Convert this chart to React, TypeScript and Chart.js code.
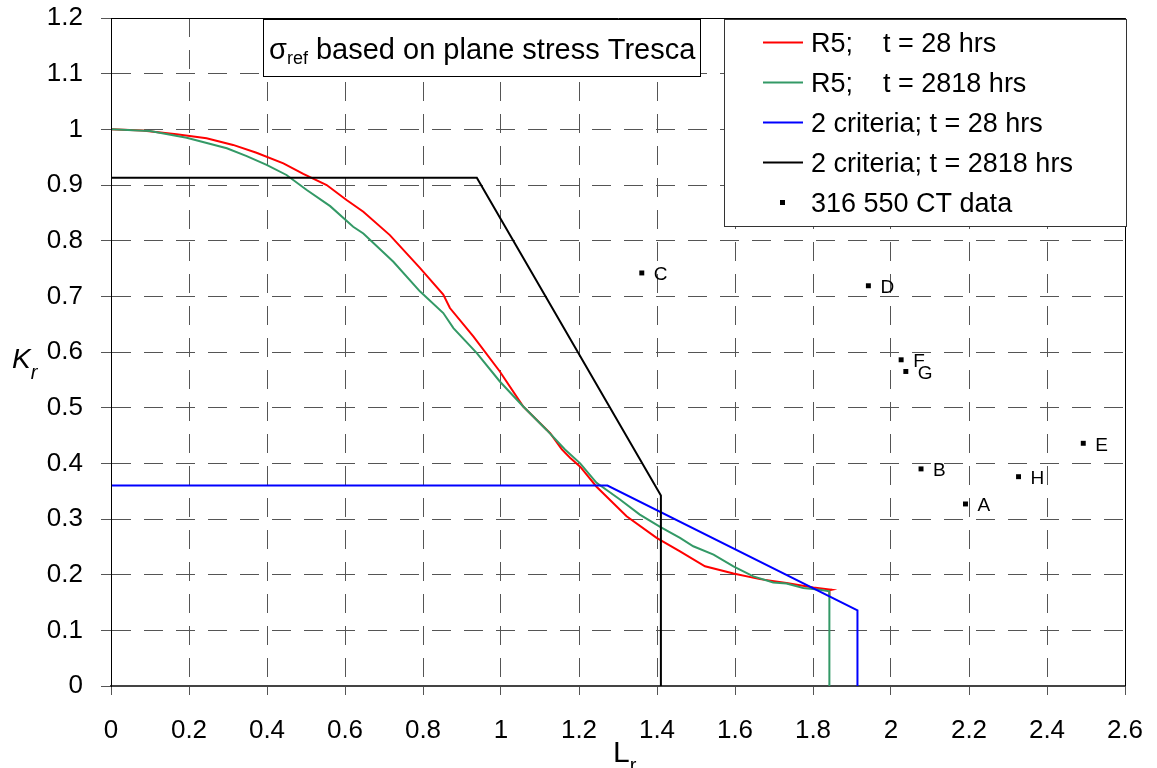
import React, { useEffect, useRef } from 'react';
import Chart from 'chart.js/auto';

const FONT = '"Liberation Sans", Arial, Helvetica, sans-serif';

// Axis tick labels
const xTickLabels = ['0', '0.2', '0.4', '0.6', '0.8', '1', '1.2', '1.4', '1.6', '1.8', '2', '2.2', '2.4', '2.6'];
const yTickLabels = ['0', '0.1', '0.2', '0.3', '0.4', '0.5', '0.6', '0.7', '0.8', '0.9', '1', '1.1', '1.2'];

// Series names (legend order)
const seriesNames = [
  'R5;    t = 28 hrs',
  'R5;    t = 2818 hrs',
  '2 criteria; t = 28 hrs',
  '2 criteria; t = 2818 hrs',
  '316 550 CT data',
];
const seriesColors = ['#ff0000', '#339966', '#0000ff', '#000000', '#000000'];

// R5 failure assessment curve, t = 28 hrs
const r5ShortLr = [0, 0.08, 0.168, 0.245, 0.313, 0.373, 0.442, 0.493, 0.553, 0.604, 0.647, 0.715, 0.792, 0.852, 0.869, 0.929, 0.997, 1.057, 1.126, 1.156, 1.177, 1.203, 1.245, 1.322, 1.399, 1.459, 1.523, 1.596, 1.664, 1.732, 1.801, 1.848, 1.842, 1.842];
const r5ShortKr = [1.0, 0.998, 0.991, 0.984, 0.972, 0.958, 0.939, 0.92, 0.9, 0.873, 0.852, 0.81, 0.751, 0.703, 0.679, 0.628, 0.565, 0.502, 0.454, 0.425, 0.41, 0.394, 0.358, 0.305, 0.266, 0.242, 0.215, 0.202, 0.192, 0.185, 0.177, 0.173, 0.172, 0.16];

// R5 failure assessment curve, t = 2818 hrs
const r5LongLr = [0, 0.1, 0.194, 0.297, 0.348, 0.399, 0.45, 0.502, 0.562, 0.621, 0.647, 0.724, 0.792, 0.852, 0.878, 0.938, 0.997, 1.057, 1.117, 1.164, 1.203, 1.245, 1.305, 1.356, 1.408, 1.459, 1.493, 1.545, 1.596, 1.647, 1.698, 1.732, 1.775, 1.818, 1.842, 1.842];
const r5LongKr = [1.0, 0.997, 0.985, 0.966, 0.952, 0.936, 0.918, 0.891, 0.862, 0.825, 0.813, 0.762, 0.709, 0.67, 0.643, 0.598, 0.547, 0.502, 0.46, 0.425, 0.4, 0.365, 0.335, 0.308, 0.286, 0.266, 0.251, 0.236, 0.215, 0.197, 0.186, 0.184, 0.176, 0.173, 0.17, 0];

// Two-criteria diagrams
const twoCritShortLr = [0, 1.273, 1.914, 1.914];
const twoCritShortKr = [0.36, 0.36, 0.136, 0];
const twoCritLongLr = [0, 0.938, 1.41, 1.41];
const twoCritLongKr = [0.913, 0.913, 0.342, 0];

// 316 550 CT test data
const ctLabels = ['A', 'B', 'C', 'D', 'E', 'F', 'G', 'H'];
const ctLr = [2.191, 2.077, 1.361, 1.942, 2.493, 2.026, 2.038, 2.327];
const ctKr = [0.327, 0.39, 0.742, 0.719, 0.436, 0.586, 0.565, 0.376];

// Text in the annotation box and axis titles
const noteSymbol = 'σ';
const noteSub = 'ref';
const noteRest = ' based on plane stress Tresca';
const xTitle = ['L', 'r'];
const yTitle = ['K', 'r'];

const toPoints = (xs: number[], ys: number[]) => xs.map((x, i) => ({ x, y: ys[i] }));

const decorPlugin = {
  id: 'decor',
  afterDatasetsDraw(chart: any) {
    const { ctx, chartArea: a } = chart;
    ctx.save();
    // letters next to the CT data points
    const meta = chart.getDatasetMeta(4);
    ctx.font = `19px ${FONT}`;
    ctx.fillStyle = '#000';
    ctx.textAlign = 'left';
    ctx.textBaseline = 'middle';
    meta.data.forEach((pt: any, i: number) => {
      ctx.fillText(ctLabels[i], pt.x + 12, pt.y + 2);
    });
    // plot-area frame (left, top, right)
    ctx.strokeStyle = '#000';
    ctx.lineWidth = 1;
    ctx.beginPath();
    ctx.moveTo(Math.round(a.left) + 0.5, a.bottom);
    ctx.lineTo(Math.round(a.left) + 0.5, Math.round(a.top) + 0.5);
    ctx.lineTo(Math.round(a.right) + 0.5, Math.round(a.top) + 0.5);
    ctx.lineTo(Math.round(a.right) + 0.5, a.bottom);
    ctx.stroke();
    ctx.restore();
  },
  afterDraw(chart: any) {
    const { ctx, chartArea: a } = chart;
    ctx.save();
    ctx.textAlign = 'left';
    ctx.textBaseline = 'alphabetic';

    // annotation box
    const bx = Math.round(a.left) + 152;
    const by = Math.round(a.top) + 1;
    const bw = 437;
    const bh = 57;
    ctx.fillStyle = '#fff';
    ctx.fillRect(bx, by, bw, bh);
    ctx.strokeStyle = '#000';
    ctx.lineWidth = 1;
    ctx.strokeRect(bx + 0.5, by + 0.5, bw, bh);
    ctx.fillStyle = '#000';
    let tx = bx + 6;
    const base = by + 39.5;
    ctx.font = `29px ${FONT}`;
    ctx.fillText(noteSymbol, tx, base);
    tx += ctx.measureText(noteSymbol).width;
    ctx.font = `18px ${FONT}`;
    ctx.fillText(noteSub, tx, base + 5);
    tx += ctx.measureText(noteSub).width;
    ctx.font = `29px ${FONT}`;
    ctx.fillText(noteRest, tx, base);

    // legend
    const lx = Math.round(a.left) + 613;
    const ly = Math.round(a.top) + 1;
    const lw = 402;
    const lh = 207;
    ctx.fillStyle = '#fff';
    ctx.fillRect(lx, ly, lw, lh);
    ctx.strokeStyle = '#333';
    ctx.strokeRect(lx + 0.5, ly + 0.5, lw, lh);
    ctx.font = `27px ${FONT}`;
    chart.data.datasets.forEach((ds: any, i: number) => {
      const cy = ly + 23.5 + i * 40;
      if (ds.showLine) {
        ctx.strokeStyle = ds.borderColor;
        ctx.lineWidth = 2;
        ctx.beginPath();
        ctx.moveTo(lx + 39, cy);
        ctx.lineTo(lx + 79, cy);
        ctx.stroke();
      } else {
        ctx.fillStyle = ds.backgroundColor;
        ctx.fillRect(lx + 56, cy - 2.5, 5, 5);
      }
      ctx.fillStyle = '#000';
      ctx.fillText(ds.label, lx + 87, cy + 9.5);
    });

    // axis titles
    const midY = (a.top + a.bottom) / 2;
    ctx.font = `italic 28px ${FONT}`;
    ctx.fillText(yTitle[0], 12, midY + 16);
    const kw = ctx.measureText(yTitle[0]).width;
    ctx.font = `italic 20px ${FONT}`;
    ctx.fillText(yTitle[1], 12 + kw, midY + 27);

    const midX = (a.left + a.right) / 2;
    ctx.font = `30px ${FONT}`;
    ctx.fillText(xTitle[0], midX - 5, a.bottom + 76);
    const lwid = ctx.measureText(xTitle[0]).width;
    ctx.font = `20px ${FONT}`;
    ctx.fillText(xTitle[1], midX - 5 + lwid, a.bottom + 86);
    ctx.restore();
  },
};

// keep the label overhang from pushing the plot area inward
const clearPadding = (s: any) => {
  s.paddingTop = 0;
  s.paddingBottom = 0;
  s.paddingLeft = 0;
  s.paddingRight = 0;
};

export default function App() {
  const canvasRef = useRef<HTMLCanvasElement | null>(null);

  useEffect(() => {
    if (!canvasRef.current) return;
    const lineSet = (i: number, xs: number[], ys: number[], order: number) => ({
      label: seriesNames[i],
      data: toPoints(xs, ys),
      showLine: true,
      borderColor: seriesColors[i],
      backgroundColor: seriesColors[i],
      borderWidth: 2,
      pointRadius: 0,
      tension: 0,
      fill: false,
      order,
    });

    const chart = new Chart(canvasRef.current, {
      type: 'scatter',
      data: {
        datasets: [
          lineSet(0, r5ShortLr, r5ShortKr, 5),
          lineSet(1, r5LongLr, r5LongKr, 4),
          lineSet(2, twoCritShortLr, twoCritShortKr, 3),
          lineSet(3, twoCritLongLr, twoCritLongKr, 2),
          {
            label: seriesNames[4],
            data: toPoints(ctLr, ctKr),
            showLine: false,
            backgroundColor: seriesColors[4],
            borderColor: seriesColors[4],
            pointStyle: 'rect',
            pointRadius: 3.5,
            pointBorderWidth: 0,
            order: 1,
          } as any,
        ],
      },
      options: {
        responsive: false,
        animation: false,
        devicePixelRatio: 1,
        layout: { padding: { left: 0, right: 32, top: 18, bottom: 0 } },
        plugins: {
          legend: { display: false },
          tooltip: { enabled: false },
        },
        scales: {
          x: {
            type: 'linear',
            position: 'bottom',
            min: 0,
            max: 2.6,
            ticks: {
              stepSize: 0.2,
              autoSkip: false,
              maxRotation: 0,
              color: '#000',
              padding: 20,
              font: { family: FONT, size: 26 },
              callback: (_v: any, i: number) => xTickLabels[i] ?? '',
            },
            grid: { color: '#555', lineWidth: 1, tickLength: 9, tickColor: '#555' },
            border: { display: true, color: '#444', width: 2, dash: [19, 13] },
            afterFit: (s: any) => { s.height = 82; clearPadding(s); },
          },
          y: {
            type: 'linear',
            min: 0,
            max: 1.2,
            ticks: {
              stepSize: 0.1,
              autoSkip: false,
              color: '#000',
              padding: 18,
              font: { family: FONT, size: 26 },
              callback: (_v: any, i: number) => yTickLabels[i] ?? '',
            },
            grid: { color: '#555', lineWidth: 1, tickLength: 10, tickColor: '#555' },
            border: { display: true, color: '#000', width: 1, dash: [19, 13] },
            afterFit: (s: any) => { s.width = 111; clearPadding(s); },
          },
        },
      } as any,
      plugins: [decorPlugin],
    });
    return () => chart.destroy();
  }, []);

  return (
    <div style={{ position: 'absolute', left: 0, top: 0, width: 1157, height: 768, background: '#fff' }}>
      <canvas ref={canvasRef} width={1157} height={768} style={{ display: 'block', width: 1157, height: 768 }} />
    </div>
  );
}
